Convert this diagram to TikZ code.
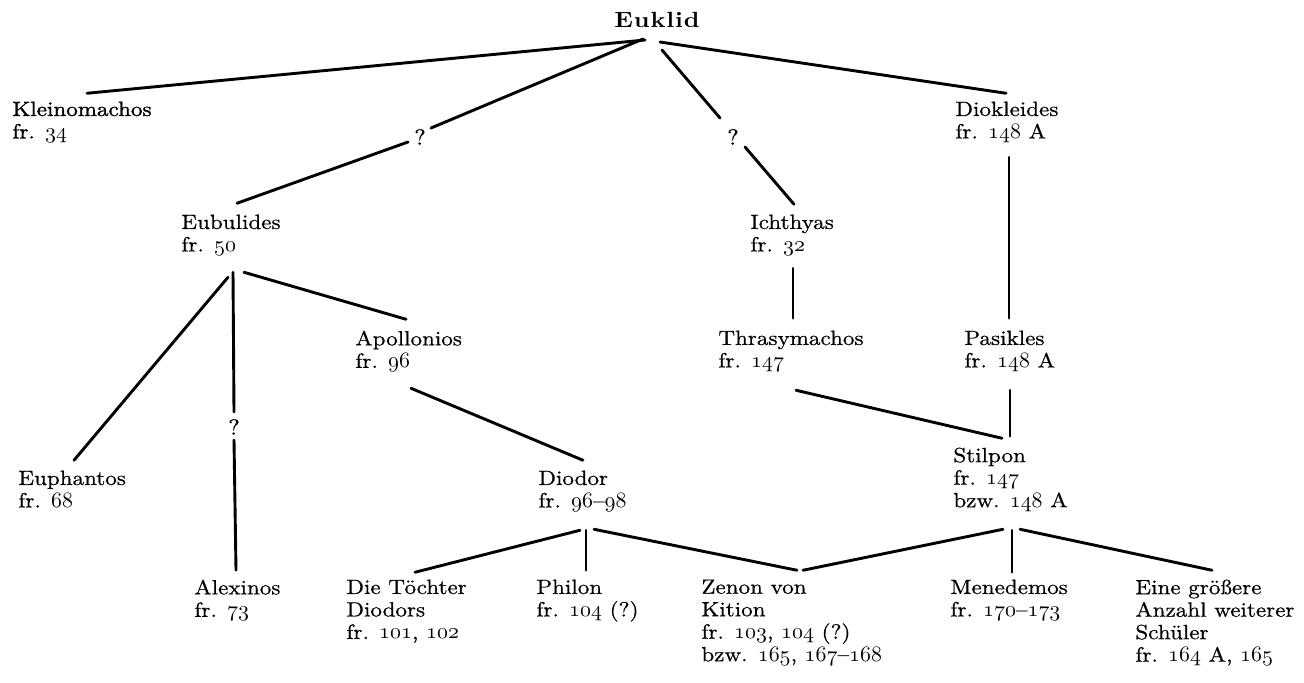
\documentclass[tikz,border=0pt]{standalone}
\usepackage{fontspec}
\setmainfont{lmroman10-regular.otf}[BoldFont=lmroman10-bold.otf, FakeStretch=1.12, FakeBold=0.6]
\newfontfamily\heavyfont{lmroman10-regular.otf}[FakeStretch=1.12, FakeBold=1.4]
\newfontfamily\eukfont{lmroman10-bold.otf}[FakeStretch=1.12, LetterSpace=4]
\newcommand\osn[1]{{\fontsize{10.95pt}{11.25pt}\usefont{OML}{cmm}{m}{it}#1}}
\begin{document}
\begin{tikzpicture}[x=0.5pt, y=-0.5pt,
  lbl/.style={anchor=north west, yshift=7.875pt, align=left, inner sep=0pt,
    font=\fontsize{10.3pt}{11.25pt}\selectfont,
    execute at begin node={\rule{0pt}{7.875pt}}},
  qm/.style={inner sep=0pt, font=\fontsize{11pt}{11.25pt}\selectfont},
  link/.style={line width=1.45pt, line cap=round}]
\useasboundingbox (0,0) rectangle (1304,682);
% nodes
\node[anchor=base, inner sep=0pt, font=\eukfont\fontsize{11pt}{12pt}\selectfont] (euklid) at (657,27) {Euklid};
\node[lbl, font=\heavyfont\fontsize{10.3pt}{11.25pt}\selectfont] (kleino) at (12,117) {Kleinomachos\\fr. \osn{34}};
\node[qm] (q1) at (420,137) {?};
\node[qm] (q2) at (733,137) {?};
\node[qm] (q3) at (234,427) {?};
\node[lbl] (eubul) at (181,230) {Eubulides\\fr. \osn{50}};
\node[lbl] (ichthy) at (750,230) {Ichthyas\\fr. \osn{32}};
\node[lbl] (diokl) at (955,117) {Diokleides\\fr. \osn{148} A};
\node[lbl] (apoll) at (355,346) {Apollonios\\fr. \osn{96}};
\node[lbl] (thras) at (718,346) {Thrasymachos\\fr. \osn{147}};
\node[lbl] (pasik) at (964,346) {Pasikles\\fr. \osn{148} A};
\node[lbl] (euph) at (18,486) {Euphantos\\fr. \osn{68}};
\node[lbl] (diodor) at (538,486) {Diodor\\fr. \osn{96}--\osn{98}};
\node[lbl] (stilp) at (953,463) {Stilpon\\fr. \osn{147}\\bzw. \osn{148} A};
\node[lbl] (alex) at (194,595) {Alexinos\\fr. \osn{73}};
\node[lbl] (toech) at (346,595) {Die Töchter\\Diodors\\fr. \osn{101}, \osn{102}};
\node[lbl] (philon) at (536,595) {Philon\\fr. \osn{104} (?)};
\node[lbl] (zenon) at (701,595) {Zenon von\\Kition\\fr. \osn{103}, \osn{104} (?)\\bzw. \osn{165}, \osn{167}--\osn{168}};
\node[lbl] (mened) at (950,595) {Menedemos\\fr. \osn{170}--\osn{173}};
\node[lbl] (eine) at (1135,595) {Eine größere\\Anzahl weiterer\\Schüler\\fr. \osn{164} A, \osn{165}};
% connectors
\draw[link] ([shift={(-12,13)}]euklid.base) -- ([shift={(75,-8)}]kleino.north west);
\draw[link] ([shift={(-14,12)}]euklid.base) -- ([shift={(11,-9)}]q1.center);
\draw[link] ([shift={(-12,5)}]q1.center) -- ([shift={(56,-11)}]eubul.north west);
\draw[link] ([shift={(5,23)}]euklid.base) -- ([shift={(-13,-19)}]q2.center);
\draw[link] ([shift={(12,10)}]q2.center) -- ([shift={(44,-10)}]ichthy.north west);
\draw[link] ([shift={(3,15)}]euklid.base) -- ([shift={(51,-8)}]diokl.north west);
\draw[link] ([shift={(54,56)}]diokl.north west) -- ([shift={(45,-12)}]pasik.north west);
\draw[link] ([shift={(43,54)}]ichthy.north west) -- ([shift={(75,-12)}]thras.north west);
\draw[link] ([shift={(47,63)}]eubul.north west) -- ([shift={(56,-10)}]euph.north west);
\draw[link] ([shift={(52,58)}]eubul.north west) -- ([shift={(0,-15)}]q3.center);
\draw[link] ([shift={(0,13)}]q3.center) -- ([shift={(42,-9)}]alex.north west);
\draw[link] ([shift={(63,58)}]eubul.north west) -- ([shift={(51,-11)}]apoll.north west);
\draw[link] ([shift={(56,58)}]apoll.north west) -- ([shift={(45,-10)}]diodor.north west);
\draw[link] ([shift={(78,60)}]thras.north west) -- ([shift={(49,-9)}]stilp.north west);
\draw[link] ([shift={(46,60)}]pasik.north west) -- ([shift={(57,-11)}]stilp.north west);
\draw[link] ([shift={(42,60)}]diodor.north west) -- ([shift={(69,-7)}]toech.north west);
\draw[link] ([shift={(48,60)}]diodor.north west) -- ([shift={(50,-9)}]philon.north west);
\draw[link] ([shift={(56,59)}]diodor.north west) -- ([shift={(96,-9)}]zenon.north west);
\draw[link] ([shift={(50,82)}]stilp.north west) -- ([shift={(102,-9)}]zenon.north west);
\draw[link] ([shift={(59,83)}]stilp.north west) -- ([shift={(62,-7)}]mened.north west);
\draw[link] ([shift={(67,82)}]stilp.north west) -- ([shift={(77,-9)}]eine.north west);
\end{tikzpicture}
\end{document}
